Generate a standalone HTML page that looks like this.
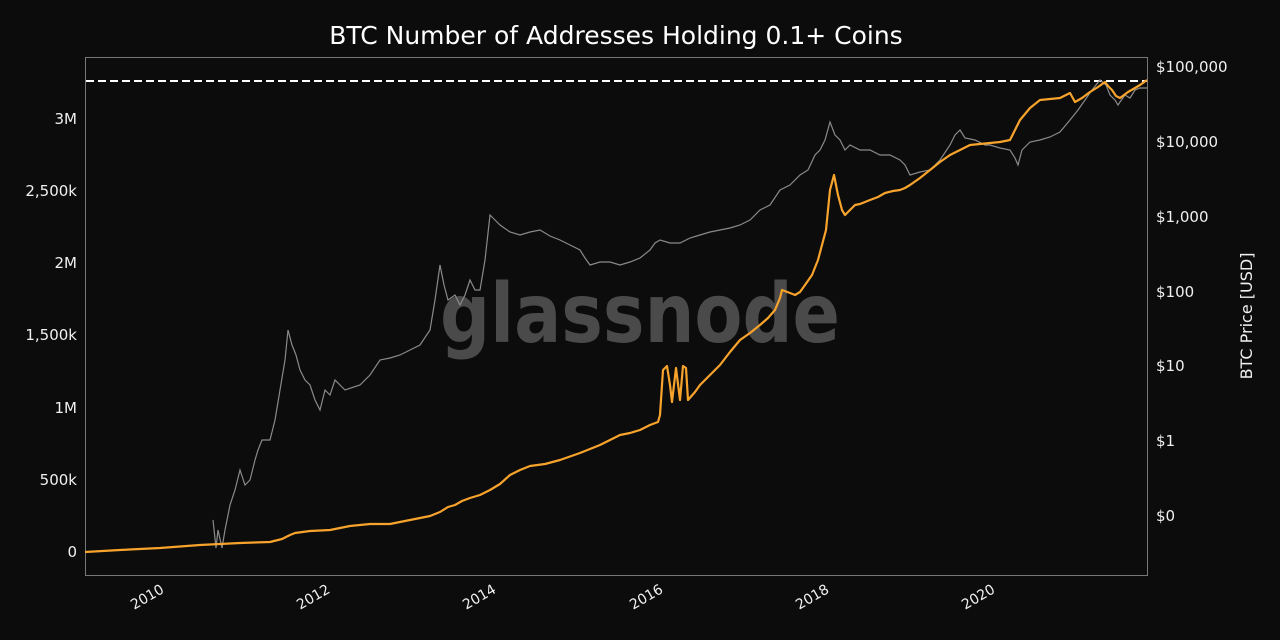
<!DOCTYPE html>
<html><head><meta charset="utf-8"><style>
html,body{margin:0;padding:0;background:#0c0c0c;}
svg{display:block;font-family:"DejaVu Sans","Liberation Sans",sans-serif;}
</style></head><body>
<svg width="1280" height="640" viewBox="0 0 1280 640">
<rect width="1280" height="640" fill="#0c0c0c"/>
<text x="616" y="44" fill="#fff" font-size="25" text-anchor="middle">BTC Number of Addresses Holding 0.1+ Coins</text>
<text x="440" y="342" fill="#4a4a4a" font-size="82" font-weight="bold" textLength="400" lengthAdjust="spacingAndGlyphs" font-family="DejaVu Sans,sans-serif">glassnode</text>
<rect x="85.5" y="57.5" width="1062" height="518" fill="none" stroke="#777" stroke-width="1"/>
<line x1="86" y1="81" x2="1147" y2="81" stroke="#fff" stroke-width="2" stroke-dasharray="8,4"/>
<g fill="#f0f0f0" font-size="15" text-anchor="end">
<text x="77" y="557">0</text><text x="77" y="485">500k</text><text x="77" y="413">1M</text>
<text x="77" y="340">1,500k</text><text x="77" y="268">2M</text><text x="77" y="196">2,500k</text><text x="77" y="124">3M</text>
</g>
<g fill="#f0f0f0" font-size="15">
<text x="1156" y="72">$100,000</text><text x="1156" y="147">$10,000</text><text x="1156" y="222">$1,000</text>
<text x="1156" y="297">$100</text><text x="1156" y="371">$10</text><text x="1156" y="446">$1</text><text x="1156" y="521">$0</text>
</g>
<text transform="translate(1252,316) rotate(-90)" fill="#f0f0f0" font-size="16" text-anchor="middle">BTC Price [USD]</text>
<g fill="#f0f0f0" font-size="14" text-anchor="end">
<text transform="translate(165,592) rotate(-30)">2010</text>
<text transform="translate(331,592) rotate(-30)">2012</text>
<text transform="translate(497,592) rotate(-30)">2014</text>
<text transform="translate(664,592) rotate(-30)">2016</text>
<text transform="translate(830,592) rotate(-30)">2018</text>
<text transform="translate(996,592) rotate(-30)">2020</text>
</g>
<polyline fill="none" stroke="#8a8a8a" stroke-width="1.2" points="213,520 216,548 218,530 222,548 225,530 230,505 235,490 240,470 245,485 250,480 255,460 258,450 262,440 270,440 275,420 280,390 285,360 288,330 292,345 296,355 300,370 305,380 310,385 315,400 320,410 325,390 330,395 335,380 345,390 360,385 370,375 380,360 390,358 400,355 410,350 420,345 430,330 435,300 440,265 444,285 448,300 455,295 460,305 465,295 470,280 475,290 480,290 485,260 490,215 495,220 500,225 510,232 520,235 530,232 540,230 550,236 560,240 570,245 580,250 585,258 590,265 600,262 610,262 620,265 630,262 640,258 650,250 655,243 660,240 670,243 680,243 690,238 700,235 710,232 720,230 730,228 740,225 750,220 760,210 770,205 780,190 790,185 800,175 808,170 815,155 820,150 825,140 830,122 835,135 840,140 845,150 850,145 860,150 870,150 880,155 890,155 900,160 905,165 910,175 920,172 930,170 940,160 950,145 955,135 960,130 965,138 975,140 985,145 990,145 1000,148 1010,150 1015,158 1018,165 1022,150 1030,142 1040,140 1050,137 1060,132 1070,120 1078,110 1085,100 1092,90 1100,80 1106,85 1110,95 1115,100 1118,105 1120,102 1125,95 1130,98 1135,90 1140,88 1147,88"/>
<polyline fill="none" stroke="#f7a32c" stroke-width="2.2" stroke-linejoin="round" points="85,552 120,550 160,548 200,545 240,543 270,542 282,539 290,535 295,533 310,531 330,530 350,526 370,524 390,524 400,522 410,520 420,518 430,516 440,512 448,507 455,505 462,501 470,498 480,495 490,490 500,484 510,475 520,470 530,466 545,464 560,460 580,453 600,445 610,440 620,435 630,433 640,430 650,425 658,422 660,415 663,370 667,366 670,385 672,402 676,368 680,400 683,366 686,368 688,400 695,392 700,385 710,375 720,365 730,352 740,340 750,333 760,325 768,318 775,310 780,298 782,290 790,293 795,295 800,292 805,285 812,275 818,260 822,245 826,230 830,190 834,175 836,185 838,195 842,210 845,215 850,210 855,205 860,204 870,200 878,197 885,193 893,191 900,190 905,188 910,185 920,178 930,170 940,162 950,155 960,150 970,145 980,144 990,143 1000,142 1010,140 1015,130 1020,120 1030,108 1040,100 1050,99 1060,98 1070,93 1075,102 1082,98 1090,92 1098,87 1105,82 1108,86 1112,90 1116,96 1120,98 1128,92 1135,88 1140,85 1147,80"/>
</svg>
</body></html>
